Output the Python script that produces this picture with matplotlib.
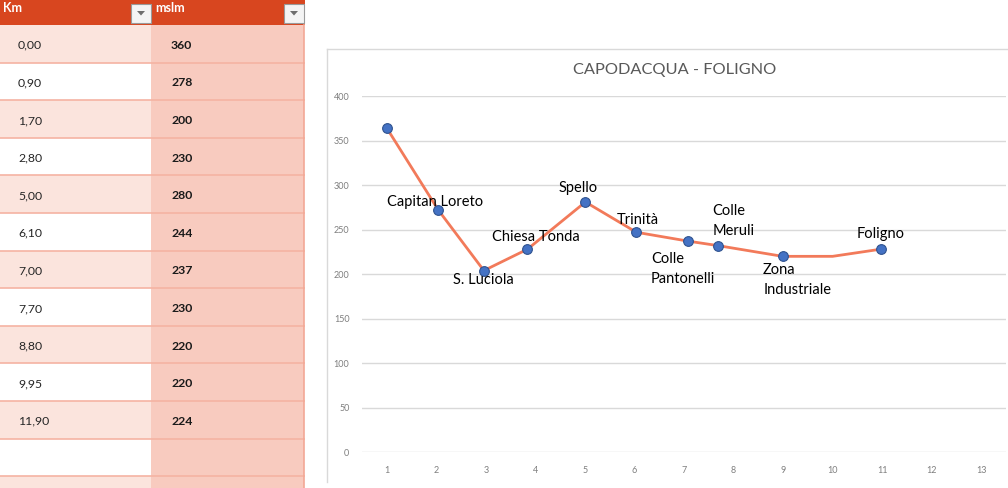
import matplotlib.pyplot as plt
from matplotlib.patches import Rectangle, Polygon

plt.rcParams['font.family'] = ['Lato', 'DejaVu Sans']

# table data (as shown in the sheet)
km_text = ["0,00", "0,90", "1,70", "2,80", "5,00", "6,10", "7,00", "7,70", "8,80", "9,95", "11,90"]
mslm_text = ["360", "278", "200", "230", "280", "244", "237", "230", "220", "220", "224"]

# chart data
tappe = ["", "Capitan Loreto", "S. Luciola", "Chiesa Tonda", "Spello", "Trinità",
         "Colle\nPantonelli", "Colle\nMeruli", "Zona\nIndustriale", "", "Foligno"]
pos = [1, 2.04, 2.96, 3.84, 5.01, 6.04, 7.09, 7.69, 8.99, 10.0, 10.97]
quota = [364, 272, 204, 228, 281, 247, 237, 232, 220, 220, 228]
x_ticks = list(range(1, 14))
y_ticks = [0, 50, 100, 150, 200, 250, 300, 350, 400]

# label placement (offset in points, alignment)
lab_style = {
    "Capitan Loreto": (-2, 6, 'center'),
    "S. Luciola": (0, -7, 'center'),
    "Chiesa Tonda": (6, 9, 'center'),
    "Spello": (-5, 10, 'center'),
    "Trinità": (1, 9, 'center'),
    "Colle\nPantonelli": (-27, -20, 'left'),
    "Colle\nMeruli": (-4, 18, 'left'),
    "Zona\nIndustriale": (-14, -17, 'left'),
    "Foligno": (0, 11, 'center'),
}

W, H = 1008, 488
fig = plt.figure(figsize=(W / 100, H / 100), dpi=100)

# background layer in pixel coordinates: table + chart frame
bg = fig.add_axes([0, 0, 1, 1])
bg.set_xlim(0, W)
bg.set_ylim(H, 0)
bg.axis('off')

header_c = '#D8461F'
light_c = '#FBE4DD'
col2_c = '#F8CBBF'
line_c = '#F5B3A3'
row_h = 37.6
top = 25

for i in range(13):
    y0 = top + i * row_h
    bg.add_patch(Rectangle((0, y0), 151, row_h, facecolor=light_c if i % 2 == 0 else 'white',
                           edgecolor='none'))
    bg.add_patch(Rectangle((151, y0), 153, row_h, facecolor=col2_c, edgecolor='none'))
    bg.plot([0, 304], [y0 + row_h, y0 + row_h], color=line_c, lw=1.2)
    if i < len(km_text):
        yc = y0 + row_h / 2 + 1.5
        bg.text(18, yc, km_text[i], fontsize=8.8, color='#262626', va='center', ha='left')
        bg.text(171, yc, mslm_text[i], fontsize=8.8, color='#1a1a1a', va='center', ha='left',
                fontweight='bold')
bg.plot([304, 304], [top, H], color='#F2A896', lw=1.2)

bg.add_patch(Rectangle((0, 0), 305, top, facecolor=header_c, edgecolor='none'))
bg.text(3, 8.5, "Km", color='white', fontsize=9, fontweight='bold', va='center', ha='left')
bg.text(155, 8.5, "mslm", color='white', fontsize=9, fontweight='bold', va='center', ha='left')
for bx in (131, 284):
    bg.add_patch(Rectangle((bx, 3.5), 19.5, 19, facecolor='#F4F4F4', edgecolor='#9A9A9A', lw=0.8))
    cx, cy = bx + 10, 13
    bg.add_patch(Polygon([[cx - 4, cy - 2], [cx + 4, cy - 2], [cx, cy + 2.5]], closed=True,
                         facecolor='#6E6E6E', edgecolor='none'))

# chart frame
bg.plot([327, 327], [49, 482], color='#D9D9D9', lw=1)
bg.plot([327, W], [49, 49], color='#D9D9D9', lw=1)
bg.text(675, 70, "CAPODACQUA - FOLIGNO", fontsize=11.8, color='#595959', ha='center', va='center')

# plot area
left, right, ytop, ybot = 362, 1006, 96, 452.3
ax = fig.add_axes([left / W, (H - ybot) / H, (right - left) / W, (ybot - ytop) / H])
ax.patch.set_alpha(0)
ax.set_xlim(0.5, 13.5)
ax.set_ylim(0, 400)
for s in ax.spines.values():
    s.set_visible(False)
ax.set_yticks(y_ticks)
ax.set_xticks(x_ticks)
ax.tick_params(length=0, labelsize=6.5, labelcolor='#7F7F7F')
ax.tick_params(axis='y', pad=9)
ax.tick_params(axis='x', pad=10)
ax.grid(axis='y', color='#D9D9D9', lw=1)
ax.set_axisbelow(True)

ax.plot(pos, quota, color='#F27A5A', lw=2, zorder=2, clip_on=False,
        marker='o', markersize=7, markerfacecolor='#4472C4', markeredgecolor='#2F528F',
        markeredgewidth=0.8, markevery=[0, 1, 2, 3, 4, 5, 6, 7, 8, 10])

for name, x, y in zip(tappe, pos, quota):
    if not name:
        continue
    dx, dy, ha = lab_style[name]
    ax.annotate(name, (x, y), xytext=(dx, dy), textcoords='offset points',
                ha=ha, va='center', fontsize=10.5, color='black', linespacing=1.55,
                annotation_clip=False, zorder=3)

fig.savefig('out.png', dpi=100)
